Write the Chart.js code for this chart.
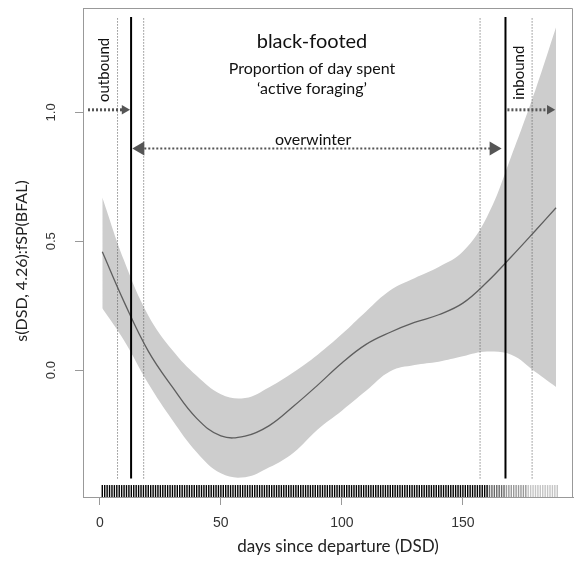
<!DOCTYPE html>
<html>
<head>
<meta charset="utf-8">
<script src="https://cdn.jsdelivr.net/npm/chart.js@4.4.1/dist/chart.umd.min.js"></script>
<style>
  html, body { margin: 0; padding: 0; background: #fff; }
  #wrap { width: 581px; height: 561px; position: relative; }
</style>
</head>
<body>
<div id="wrap"><canvas id="gam"></canvas></div>
<script>
// smooth term s(DSD) for BFAL, with its confidence band
const days  = [1, 10, 20, 30, 40, 50, 60, 70, 80, 90, 100, 110, 120, 130, 140, 150, 160, 170, 180, 188.5];
const fit   = [0.459, 0.265, 0.074, -0.066, -0.187, -0.255, -0.256, -0.215, -0.14, -0.058, 0.028, 0.10, 0.147, 0.185, 0.215, 0.26, 0.342, 0.44, 0.542, 0.63];
const upper = [0.67, 0.425, 0.212, 0.077, -0.022, -0.093, -0.108, -0.066, -0.008, 0.06, 0.14, 0.228, 0.31, 0.357, 0.40, 0.46, 0.595, 0.83, 1.088, 1.33];
const lower = [0.24, 0.115, -0.052, -0.194, -0.318, -0.40, -0.415, -0.377, -0.32, -0.23, -0.157, -0.08, -0.004, 0.02, 0.033, 0.054, 0.072, 0.06, -0.007, -0.065];

const xTicks = [0, 50, 100, 150];
const yTicks = [0.0, 0.5, 1.0];

// end of outbound / start of inbound: mean and spread (days)
const outMean = 12.9, outSpread = [7.3, 18.1];
const inMean = 167.6, inSpread = [157.1, 178.6];
const lineSpan = [-0.42, 1.37];

// arrows [from, to] in days
const outboundArrow = [-4.9, 10.2];
const overwinterArrow = [16.7, 162.7];
const inboundArrow = [168.4, 185.9];
const migrateLevel = 1.01;
const winterLevel = 0.86;

// days with observations (rug)
const rugDays = [
  1, 2, 3, 4, 5, 6, 7, 8, 9, 10, 11, 12, 13, 14, 15, 16, 17, 18, 19, 20,
  21, 22, 23, 24, 25, 26, 27, 28, 29, 30, 31, 32, 33, 34, 35, 36, 37, 38, 39, 40,
  41, 42, 43, 44, 45, 46, 47, 48, 49, 50, 51, 52, 53, 54, 55, 56, 57, 58, 59, 60,
  61, 62, 63, 64, 65, 66, 67, 68, 69, 70, 71, 72, 73, 74, 75, 76, 77, 78, 79, 80,
  81, 82, 83, 84, 85, 86, 87, 88, 89, 90, 91, 92, 93, 94, 95, 96, 97, 98, 99, 100,
  101, 102, 103, 104, 105, 106, 107, 108, 109, 110, 111, 112, 113, 114, 115, 116, 117, 118, 119, 120,
  121, 122, 123, 124, 125, 126, 127, 128, 129, 130, 131, 132, 133, 134, 135, 136, 137, 138, 139, 140,
  141, 142, 143, 144, 145, 146, 147, 148, 149, 150, 151, 152, 153, 154, 155, 156, 157, 158, 159, 160,
  161, 162, 163, 164, 165, 166, 167, 168, 169, 170, 171, 172, 173, 174, 175, 176, 177, 178, 179, 180,
  181, 182, 183, 184, 185, 186, 187, 188, 189
];
const rugLevel = -0.469;

const pts = (xs, ys) => xs.map((x, i) => ({ x: x, y: ys[i] }));
const vline = (d, color, width, dash) => ({
  data: [{ x: d, y: lineSpan[0] }, { x: d, y: lineSpan[1] }],
  borderColor: color, borderWidth: width, borderDash: dash,
  pointRadius: 0, fill: false, order: 6
});
const arrow = (a, lvl, width, radius, rot) => ({
  data: [{ x: a[0], y: lvl }, { x: a[1], y: lvl }],
  borderColor: '#555', borderWidth: width, borderDash: [2, 2],
  pointStyle: 'triangle', pointRadius: radius, pointRotation: rot,
  pointBackgroundColor: '#555', pointBorderWidth: 0,
  fill: false, order: 4
});
const rugTone = d => d <= 160 ? '#000' : d <= 167 ? '#666' : d <= 176 ? '#999' : '#c4c4c4';

const decorations = {
  id: 'decorations',
  afterDraw(chart) {
    const { ctx, chartArea: a, scales: { x, y } } = chart;
    ctx.save();
    ctx.strokeStyle = '#999';
    ctx.lineWidth = 1;
    ctx.beginPath();
    ctx.moveTo(Math.round(a.left) + 0.5, Math.round(a.top) + 0.5);
    ctx.lineTo(Math.round(a.right) - 0.5, Math.round(a.top) + 0.5);
    ctx.lineTo(Math.round(a.right) - 0.5, Math.round(a.bottom) + 0.5);
    ctx.stroke();

    const label = (txt, px, py, font, color, angle) => {
      ctx.save();
      ctx.translate(px, py);
      if (angle) ctx.rotate(angle);
      ctx.font = font;
      ctx.fillStyle = color;
      ctx.textAlign = 'center';
      ctx.textBaseline = 'middle';
      ctx.fillText(txt, 0, 0);
      ctx.restore();
    };
    const up = -Math.PI / 2;

    yTicks.forEach(v => label(v.toFixed(1), 51, y.getPixelForValue(v), '13px "Liberation Sans"', '#333', up));

    label('s(DSD, 4.26):fSP(BFAL)', 22, 261, '16px Lato', '#222', up);
    label('days since departure (DSD)', 338, 547, '17px Lato', '#222');

    label('black-footed', 312, 42, '20px Lato', '#111');
    label('Proportion of day spent', 312, 69, '16px Lato', '#111');
    label('\u2018active foraging\u2019', 312, 89, '16px Lato', '#111');

    label('outbound', x.getPixelForValue(1.6), y.getPixelForValue(1.165), '15px Lato', '#111', up);
    label('inbound', x.getPixelForValue(173.4), y.getPixelForValue(1.154), '15px Lato', '#111', up);
    label('overwinter', x.getPixelForValue(88.1), y.getPixelForValue(0.894), '16px Lato', '#111');
    ctx.restore();
  }
};

const ctx = document.getElementById('gam').getContext('2d');
const myChart = new Chart(ctx, {
  type: 'line',
  data: {
    datasets: [
      { data: pts(days, upper), borderWidth: 0, borderColor: 'rgba(0,0,0,0)', pointRadius: 0,
        fill: '+1', backgroundColor: '#cdcdcd', tension: 0.4, order: 10 },
      { data: pts(days, lower), borderWidth: 0, borderColor: 'rgba(0,0,0,0)', pointRadius: 0,
        fill: false, tension: 0.4, order: 10 },
      { data: pts(days, fit), borderColor: '#5e5e5e', borderWidth: 1.3, pointRadius: 0,
        fill: false, tension: 0.4, order: 8 },
      vline(outSpread[0], '#555', 1, [1, 2]),
      vline(outMean, '#000', 2, []),
      vline(outSpread[1], '#555', 1, [1, 2]),
      vline(inSpread[0], '#555', 1, [1, 2]),
      vline(inMean, '#000', 2, []),
      vline(inSpread[1], '#555', 1, [1, 2]),
      arrow(outboundArrow, migrateLevel, 3, [0, 5.5], [0, 90]),
      arrow(overwinterArrow, winterLevel, 2, [8, 8], [270, 90]),
      arrow(inboundArrow, migrateLevel, 3, [0, 5.5], [0, 90]),
      { data: rugDays.map(d => ({ x: d, y: rugLevel })), showLine: false,
        pointStyle: 'line', pointRotation: 90, pointRadius: 6, pointBorderWidth: 1.4,
        pointBorderColor: rugDays.map(rugTone), order: 2 }
    ]
  },
  options: {
    responsive: true,
    maintainAspectRatio: false,
    animation: false,
    devicePixelRatio: 1,
    layout: { padding: { top: 7, right: 4, left: 0, bottom: 0 } },
    plugins: {
      legend: { display: false },
      tooltip: { enabled: false }
    },
    scales: {
      x: {
        type: 'linear', min: -6.97, max: 195.5,
        afterBuildTicks: s => { s.ticks = xTicks.map(v => ({ value: v })); },
        afterFit: s => { s.height = 64; },
        grid: { drawOnChartArea: false, drawTicks: true, tickLength: 8, color: '#999' },
        border: { display: true, color: '#999', width: 1 },
        ticks: { font: { size: 14, family: 'Liberation Sans' }, color: '#333', padding: 10, maxRotation: 0 }
      },
      y: {
        type: 'linear', min: -0.492, max: 1.405,
        afterBuildTicks: s => { s.ticks = yTicks.map(v => ({ value: v })); },
        afterFit: s => { s.width = 83; },
        grid: { drawOnChartArea: false, drawTicks: true, tickLength: 8, color: '#999' },
        border: { display: true, color: '#999', width: 1 },
        ticks: { display: false }
      }
    }
  },
  plugins: [decorations]
});
</script>
</body>
</html>
